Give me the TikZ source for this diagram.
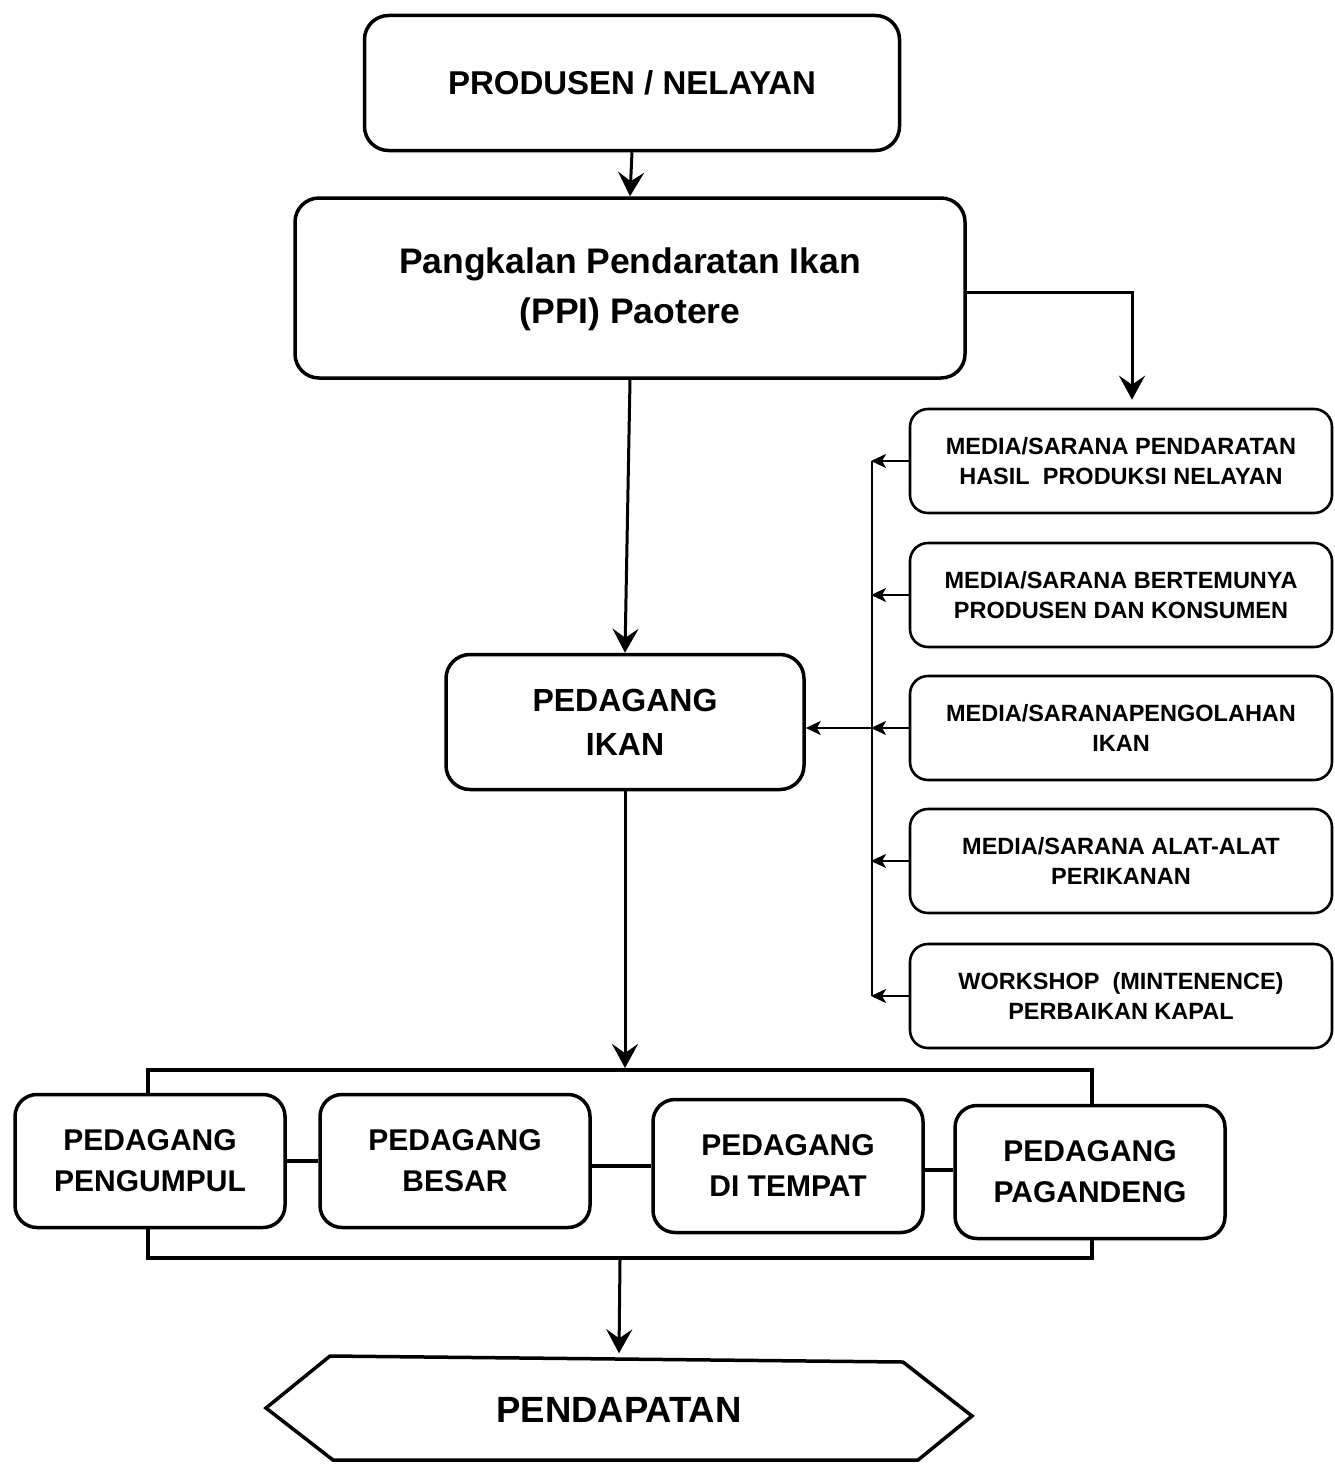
\documentclass[tikz,border=0pt]{standalone}
\usepackage{fontspec}
\setmainfont{Liberation Sans}
\usetikzlibrary{arrows.meta}
\begin{document}
\begin{tikzpicture}[x=1pt,y=-1pt,
  bigbox/.style={draw, line width=3.5pt, rounded corners=24pt, fill=white, align=center, inner sep=0pt, font=\bfseries},
  medbox/.style={draw, line width=2.6pt, rounded corners=18pt, fill=white, align=center, inner sep=0pt,
     minimum width=422pt, minimum height=104pt, font=\bfseries\fontsize{23.5}{30}\selectfont},
  lowbox/.style={draw, line width=3.5pt, rounded corners=22pt, fill=white, align=center, inner sep=0pt,
     minimum width=270pt, minimum height=133pt, font=\bfseries\fontsize{30}{41}\selectfont},
  bigarrow/.style={line width=3pt, -{Stealth[length=24pt,width=26pt,inset=9pt]}},
  smallarrow/.style={line width=2.4pt, -{Stealth[length=15pt,width=14pt,inset=4pt]}},
  plain/.style={line width=2.6pt}
]
\useasboundingbox[fill=white] (0,0) rectangle (1334,1464);

% top boxes
\node[bigbox, minimum width=535pt, minimum height=135pt, font=\bfseries\fontsize{33}{40}\selectfont] (prod) at (632,83) {PRODUSEN / NELAYAN};
\node[bigbox, minimum width=670pt, minimum height=180pt, font=\bfseries\fontsize{35.5}{50}\selectfont] (ppi) at (630,288) {\raisebox{-10pt}{\begin{tabular}{@{}c@{}}Pangkalan Pendaratan Ikan\\(PPI) Paotere\end{tabular}}};
\node[bigbox, minimum width=358pt, minimum height=135pt, font=\bfseries\fontsize{32}{44}\selectfont] (ped) at (625,722) {PEDAGANG\\IKAN};

% right boxes
\node[medbox] (m1) at (1121,461) {MEDIA/SARANA PENDARATAN\\HASIL\ \ PRODUKSI NELAYAN};
\node[medbox] (m2) at (1121,595) {MEDIA/SARANA BERTEMUNYA\\PRODUSEN DAN KONSUMEN};
\node[medbox] (m3) at (1121,728) {MEDIA/SARANAPENGOLAHAN\\IKAN};
\node[medbox] (m4) at (1121,861) {MEDIA/SARANA ALAT-ALAT\\PERIKANAN};
\node[medbox] (m5) at (1121,996) {WORKSHOP\ \ (MINTENENCE)\\PERBAIKAN KAPAL};

\coordinate (bus) at (872,0);

% group bracket
\node[draw, line width=4pt, minimum width=944pt, minimum height=188pt, inner sep=0pt] (grp) at (620,1164) {};

% lower boxes
\node[lowbox] (b1) at (150,1161) {PEDAGANG\\PENGUMPUL};
\node[lowbox] (b2) at (455,1161) {PEDAGANG\\BESAR};
\node[lowbox] (b3) at (788,1166) {PEDAGANG\\DI TEMPAT};
\node[lowbox] (b4) at (1090,1172) {PEDAGANG\\PAGANDENG};

% hexagon
\node[inner sep=0pt, minimum width=706pt, minimum height=105pt, font=\bfseries\fontsize{36.5}{40}\selectfont] (pend) at (619,1410) {PENDAPATAN};
\draw[line width=3.5pt, line join=miter] (266,1408) -- (330,1356) -- (903,1362) -- (972,1416) -- (918,1460) -- (333,1460) -- cycle;

% connectors
\draw[bigarrow] (prod.south) -- (ppi.north);
\draw[bigarrow] (ppi.east |- 0,292) -| ([xshift=11pt,yshift=8pt]m1.north);
\draw[bigarrow] (ppi.south) -- (ped.north);
\draw[plain] (m1.west -| bus) -- (m5.west -| bus);
\foreach \m in {m1,m2,m3,m4,m5}{
  \draw[smallarrow] (\m.west) -- ([xshift=-1pt]\m.west -| bus);
}
\draw[smallarrow] (m3.west -| bus) -- (ped.east |- m3.west);
\draw[bigarrow] (ped.south) -- (ped.south |- grp.north);
\draw[plain, line width=3.5pt] (b1.east |- 0,1161) -- (b2.west |- 0,1161);
\draw[plain, line width=3.5pt] (b2.east |- 0,1166) -- (b3.west |- 0,1166);
\draw[plain, line width=3.5pt] (b3.east |- 0,1170) -- (b4.west |- 0,1170);
\draw[bigarrow] (grp.south) -- ([yshift=4pt]pend.north);
\end{tikzpicture}
\end{document}
